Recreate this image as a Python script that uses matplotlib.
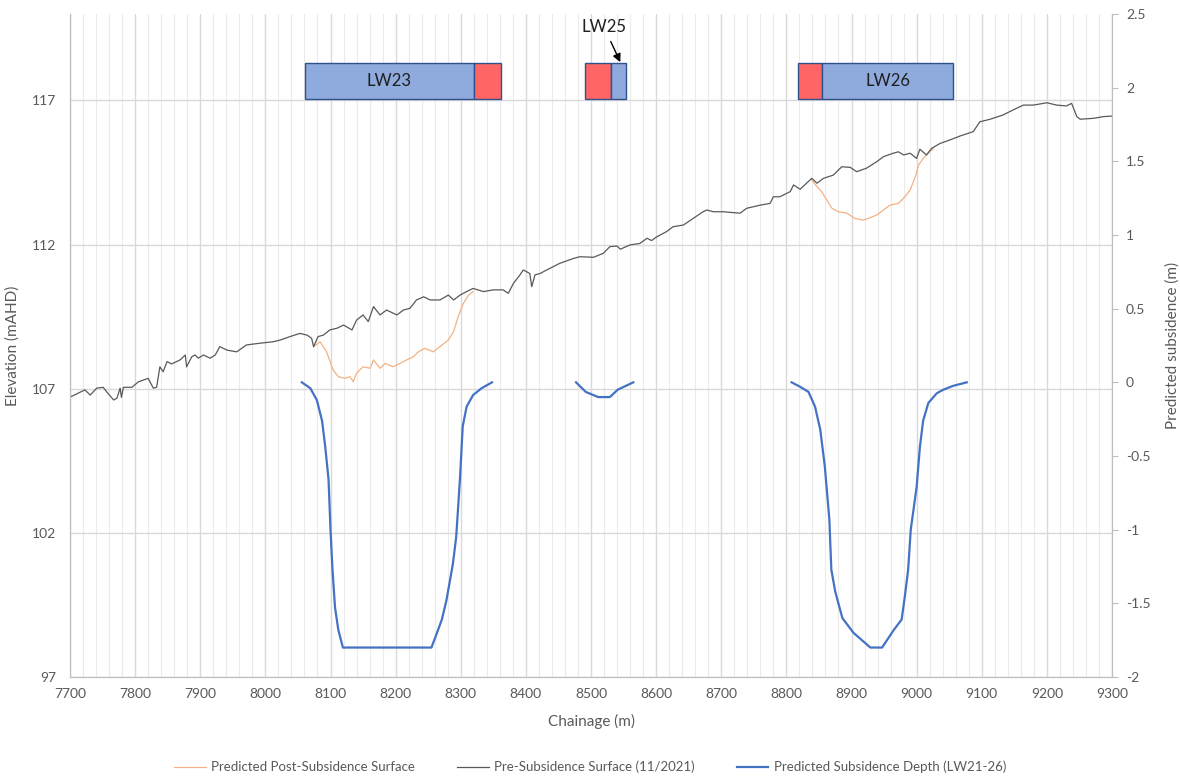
import numpy as np
import matplotlib
matplotlib.use('Agg')
import matplotlib.pyplot as plt
from matplotlib.patches import Rectangle
from matplotlib.ticker import MultipleLocator, FuncFormatter

plt.rcParams['font.family'] = ['Lato', 'DejaVu Sans']

# Pre-subsidence surface (11/2021): chainage (m), elevation (mAHD)
pre_ch = [7700, 7723, 7731, 7741, 7751, 7756, 7767, 7772, 7777, 7779, 7782, 7795, 7805, 7820, 7828,
          7833, 7838, 7843, 7849, 7856, 7869, 7877, 7879, 7887, 7892, 7897, 7905, 7915, 7923, 7930,
          7941, 7956, 7971, 7992, 8012, 8023, 8038, 8053, 8064, 8071, 8074, 8081, 8089, 8099, 8110,
          8120, 8133, 8140, 8150, 8158, 8166, 8176, 8186, 8202, 8212, 8222, 8232, 8243, 8253, 8268,
          8281, 8289, 8299, 8309, 8319, 8335, 8350, 8365, 8373, 8381, 8391, 8396, 8406, 8409, 8414,
          8422, 8432, 8447, 8452, 8473, 8483, 8504, 8519, 8529, 8540, 8545, 8560, 8575, 8586, 8593,
          8601, 8616, 8626, 8642, 8657, 8672, 8678, 8688, 8703, 8718, 8729, 8739, 8760, 8775, 8780,
          8790, 8806, 8811, 8821, 8839, 8847, 8857, 8872, 8885, 8898, 8908, 8923, 8939, 8949, 8964,
          8972, 8980, 8990, 9000, 9005, 9015, 9023, 9036, 9051, 9067, 9087, 9097, 9113, 9133, 9148,
          9164, 9179, 9200, 9215, 9230, 9238, 9246, 9251, 9271, 9287, 9300]
pre_el = [106.71, 106.96, 106.78, 107.02, 107.05, 106.90, 106.61, 106.67, 107.02, 106.70, 107.05, 107.05, 107.24, 107.36, 107.02,
          107.05, 107.76, 107.59, 107.94, 107.86, 108.00, 108.17, 107.76, 108.11, 108.17, 108.06, 108.17, 108.06, 108.17, 108.46,
          108.34, 108.28, 108.52, 108.58, 108.63, 108.69, 108.81, 108.92, 108.86, 108.75, 108.46, 108.81, 108.86, 109.04, 109.10,
          109.21, 109.04, 109.38, 109.56, 109.33, 109.85, 109.56, 109.73, 109.56, 109.73, 109.79, 110.08, 110.19, 110.08, 110.08,
          110.25, 110.08, 110.25, 110.37, 110.48, 110.37, 110.43, 110.43, 110.31, 110.66, 110.95, 111.12, 111.00, 110.54, 110.95,
          111.00, 111.12, 111.29, 111.35, 111.52, 111.58, 111.56, 111.70, 111.93, 111.95, 111.84, 111.99, 112.04, 112.22, 112.14,
          112.27, 112.45, 112.62, 112.68, 112.91, 113.14, 113.20, 113.14, 113.14, 113.11, 113.09, 113.26, 113.37, 113.43, 113.66,
          113.66, 113.84, 114.07, 113.92, 114.30, 114.13, 114.30, 114.41, 114.70, 114.68, 114.53, 114.65, 114.88, 115.05, 115.17,
          115.22, 115.11, 115.17, 114.99, 115.31, 115.11, 115.34, 115.51, 115.63, 115.77, 115.92, 116.26, 116.35, 116.50, 116.67,
          116.84, 116.84, 116.92, 116.84, 116.81, 116.90, 116.44, 116.35, 116.38, 116.44, 116.46]

# Predicted post-subsidence surface (where it departs from the pre-subsidence surface)
post_ch = [8074, 8084, 8094, 8104, 8112, 8122, 8130, 8135, 8140, 8150, 8161, 8166, 8176, 8184, 8196,
           8207, 8217, 8227, 8235, 8245, 8258, 8268, 8281, 8289, 8296, 8304, 8312, 8319, np.nan,
           8839, 8847, 8854, 8862, 8870, 8880, 8893, 8905, 8918, 8926, 8939, 8949, 8959, 8972, 8980,
           8990, 8998, 9003, 9010, 9018, 9026]
post_el = [108.46, 108.63, 108.28, 107.65, 107.42, 107.36, 107.42, 107.24, 107.54, 107.76, 107.71, 108.00, 107.71, 107.88, 107.76,
           107.88, 108.00, 108.11, 108.28, 108.40, 108.28, 108.46, 108.69, 108.98, 109.50, 109.96, 110.25, 110.37, np.nan,
           114.24, 114.01, 113.84, 113.55, 113.26, 113.14, 113.09, 112.91, 112.85, 112.91, 113.03, 113.20, 113.37, 113.43, 113.61,
           113.89, 114.36, 114.76, 114.99, 115.17, 115.34]

# Predicted subsidence depth (LW21-26), m
subs_ch = [8056, 8069, 8079, 8087, 8092, 8097, 8100, 8103, 8107, 8112, 8119, 8255, 8261, 8271, 8278,
           8288, 8293, 8299, 8303, 8309, 8319, 8332, 8348, np.nan,
           8477, 8492, 8511, 8529, 8541, 8565, np.nan,
           8808, 8821, 8834, 8844, 8852, 8859, 8866, 8869, 8875, 8886, 8903, 8929, 8947, 8965, 8977,
           8982, 8987, 8991, 9000, 9005, 9010, 9018, 9031, 9041, 9056, 9077]
subs_m = [0.0, -0.04, -0.12, -0.26, -0.44, -0.66, -1.0, -1.27, -1.53, -1.68, -1.80, -1.80, -1.73, -1.61, -1.48,
          -1.23, -1.05, -0.64, -0.30, -0.165, -0.086, -0.04, 0.0, np.nan,
          0.0, -0.065, -0.10, -0.10, -0.05, 0.0, np.nan,
          0.0, -0.03, -0.065, -0.165, -0.32, -0.57, -0.93, -1.27, -1.42, -1.60, -1.70, -1.80, -1.80, -1.68, -1.61,
          -1.45, -1.27, -1.0, -0.71, -0.44, -0.26, -0.14, -0.074, -0.05, -0.024, 0.0]

# Longwall panels along the chainage: (start, end, fill)
panels = [(8061, 8321, 'blue'), (8321, 8362, 'red'),
          (8491, 8530, 'red'), (8530, 8554, 'blue'),
          (8818, 8855, 'red'), (8855, 9056, 'blue')]
panel_labels = [('LW23', 8190), ('LW26', 8956)]

grey_txt = '#595959'
grid_c = '#D9D9D9'

fig = plt.figure(figsize=(11.8, 7.76), dpi=100)
ax = fig.add_axes([70 / 1180, 99 / 776, 1042 / 1180, 663 / 776])
ax2 = ax.twinx()

ax.plot(post_ch, post_el, color='#F4B183', lw=0.9, label='Predicted Post-Subsidence Surface', zorder=3)
ax.plot(pre_ch, pre_el, color='#595959', lw=0.9, label='Pre-Subsidence Surface (11/2021)', zorder=4)
ax2.plot(subs_ch, subs_m, color='#4472C4', lw=1.6, label='Predicted Subsidence Depth (LW21-26)')

# panel boxes
for x0, x1, c in panels:
    fc = '#8FAADC' if c == 'blue' else '#FF6565'
    ax.add_patch(Rectangle((x0, 117.05), x1 - x0, 1.25, facecolor=fc, edgecolor='#2F528F',
                           lw=1.0, zorder=5))
for txt, xc in panel_labels:
    ax.text(xc, 117.67, txt, ha='center', va='center', fontsize=12, color='#1F1F1F', zorder=6)
ax.annotate('LW25', xy=(8545, 118.33), xytext=(8520, 119.55), ha='center', va='center',
            fontsize=12, color='#1F1F1F',
            arrowprops=dict(arrowstyle='-|>', color='black', lw=1.0, mutation_scale=12,
                            shrinkA=3, shrinkB=0))

ax.set_xlim(7700, 9300)
ax.set_ylim(97, 120)
ax2.set_ylim(-2, 2.5)
ax.xaxis.set_major_locator(MultipleLocator(100))
ax.xaxis.set_minor_locator(MultipleLocator(20))
ax.set_yticks([97, 102, 107, 112, 117])
ax2.yaxis.set_major_locator(MultipleLocator(0.5))
ax2.yaxis.set_major_formatter(FuncFormatter(lambda v, p: ('%g' % v).replace('\u2212', '-')))

ax.grid(True, which='major', axis='both', color=grid_c, lw=1.0, zorder=0)
ax.grid(True, which='minor', axis='x', color='#EBEBEB', lw=0.8, zorder=0)
ax.set_axisbelow(True)

for a in (ax, ax2):
    a.spines['top'].set_visible(False)
    for s in ('left', 'right', 'bottom'):
        a.spines[s].set_color('#BFBFBF')
ax.tick_params(axis='x', which='both', length=0, pad=8, labelsize=10, labelcolor=grey_txt)
ax.tick_params(axis='y', length=0, pad=10, labelsize=10, labelcolor=grey_txt)
ax2.tick_params(axis='y', length=4, color='#BFBFBF', pad=6, labelsize=10, labelcolor=grey_txt)

ax.set_xlabel('Chainage (m)', fontsize=11, color=grey_txt, labelpad=10)
ax.set_ylabel('Elevation (mAHD)', fontsize=11, color=grey_txt)
ax2.set_ylabel('Predicted subsidence (m)', fontsize=11, color=grey_txt)
ax.yaxis.set_label_coords(-0.048, 0.5)
ax2.yaxis.set_label_coords(1.051, 0.5)

h1, l1 = ax.get_legend_handles_labels()
h2, l2 = ax2.get_legend_handles_labels()
fig.legend(h1 + h2, l1 + l2, loc='lower center', bbox_to_anchor=(0.5, -0.012), ncol=3, frameon=False,
           fontsize=9.5, labelcolor=grey_txt, handlelength=2.4, handletextpad=0.4, columnspacing=3.2)

fig.savefig('out.png', dpi=100)
